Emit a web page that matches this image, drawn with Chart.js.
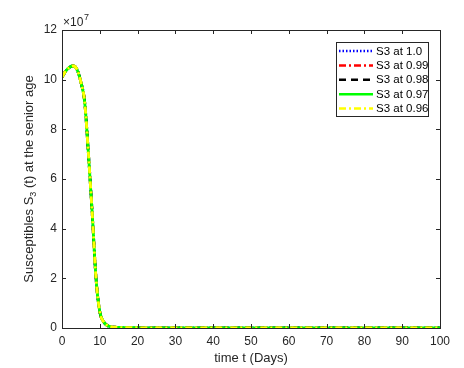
<!DOCTYPE html>
<html>
<head>
<meta charset="utf-8">
<script src="https://cdn.jsdelivr.net/npm/chart.js@4"></script>
<style>
  html, body { margin: 0; padding: 0; background: #fff; }
  #wrap { width: 464px; height: 368px; }
</style>
</head>
<body>
<div id="wrap"><canvas id="chart" width="464" height="368"></canvas></div>
<script>
// time in days
const days = [0, 1, 2, 3, 4, 5, 6, 7, 8, 9, 10, 11, 12, 13, 14, 15, 20, 30, 40, 50, 60, 70, 80, 90, 100];
// susceptibles, units of 1e7
const s3At100 = [10.1, 10.35, 10.5, 10.55, 10.4, 9.9, 9.1, 7.0, 4.6, 2.0, 0.65, 0.25, 0.1, 0.05, 0.03, 0.02, 0.01, 0, 0, 0, 0, 0, 0, 0, 0];
const s3At099 = [10.1, 10.35, 10.5, 10.55, 10.4, 9.9, 9.1, 7.0, 4.6, 2.0, 0.65, 0.25, 0.1, 0.05, 0.03, 0.02, 0.01, 0, 0, 0, 0, 0, 0, 0, 0];
const s3At098 = [10.1, 10.35, 10.5, 10.55, 10.4, 9.9, 9.1, 7.0, 4.6, 2.0, 0.65, 0.25, 0.1, 0.05, 0.03, 0.02, 0.01, 0, 0, 0, 0, 0, 0, 0, 0];
const s3At097 = [10.1, 10.35, 10.5, 10.55, 10.4, 9.9, 9.1, 7.0, 4.6, 2.0, 0.65, 0.25, 0.1, 0.05, 0.03, 0.02, 0.01, 0, 0, 0, 0, 0, 0, 0, 0];
const s3At096 = [10.1, 10.35, 10.5, 10.55, 10.4, 9.9, 9.1, 7.0, 4.6, 2.0, 0.65, 0.25, 0.1, 0.05, 0.03, 0.02, 0.01, 0, 0, 0, 0, 0, 0, 0, 0];
const seriesNames = ["S3 at 1.0", "S3 at 0.99", "S3 at 0.98", "S3 at 0.97", "S3 at 0.96"];
const xTicks = [0, 10, 20, 30, 40, 50, 60, 70, 80, 90, 100];
const yTicks = [0, 2, 4, 6, 8, 10, 12];

const FONT = "Liberation Sans, Arial, sans-serif";
const styles = [
  { color: "#0000ff", dash: [1.5, 2] },
  { color: "#ff0000", dash: [7, 3, 2, 3] },
  { color: "#000000", dash: [7, 5] },
  { color: "#00ff00", dash: [] },
  { color: "#ffff00", dash: [7, 3, 2, 3] },
];
const allValues = [s3At100, s3At099, s3At098, s3At097, s3At096];

const toPts = (vals) => days.map((d, i) => ({ x: d, y: vals[i] }));

// later series on top, like MATLAB
const datasets = allValues.map((vals, i) => ({
  label: seriesNames[i],
  data: toPts(vals),
  order: allValues.length - i,
  borderColor: styles[i].color,
  borderDash: styles[i].dash,
  borderWidth: 2.8,
  pointRadius: 0,
  fill: false,
  cubicInterpolationMode: "monotone",
}));

// box, inward ticks, labels, legend
const matlabAxes = {
  id: "matlabAxes",
  afterDraw(chart) {
    const ctx = chart.ctx;
    const a = chart.chartArea;
    const xs = chart.scales.x, ys = chart.scales.y;
    ctx.save();
    ctx.strokeStyle = "#262626";
    ctx.lineWidth = 1;
    ctx.strokeRect(a.left + 0.5, a.top + 0.5, a.right - a.left, a.bottom - a.top);
    ctx.beginPath();
    xTicks.forEach(v => {
      const px = Math.round(xs.getPixelForValue(v)) + 0.5;
      ctx.moveTo(px, a.bottom); ctx.lineTo(px, a.bottom - 4);
      ctx.moveTo(px, a.top); ctx.lineTo(px, a.top + 4);
    });
    yTicks.forEach(v => {
      const py = Math.round(ys.getPixelForValue(v)) + 0.5;
      ctx.moveTo(a.left, py); ctx.lineTo(a.left + 4, py);
      ctx.moveTo(a.right, py); ctx.lineTo(a.right - 4, py);
    });
    ctx.stroke();

    ctx.fillStyle = "#262626";
    ctx.font = "12px " + FONT;
    ctx.textAlign = "center";
    ctx.textBaseline = "middle";
    xTicks.forEach(v => ctx.fillText(String(v), xs.getPixelForValue(v), a.bottom + 14));
    ctx.textAlign = "right";
    yTicks.forEach(v => ctx.fillText(String(v), a.left - 5, ys.getPixelForValue(v)));

    // exponent
    ctx.textAlign = "left";
    ctx.font = "12px " + FONT;
    ctx.fillText("\u00d710", a.left + 1, a.top - 7);
    ctx.font = "9px " + FONT;
    ctx.fillText("7", a.left + 22, a.top - 12);

    // x title
    ctx.font = "13px " + FONT;
    ctx.textAlign = "center";
    ctx.fillText("time t (Days)", (a.left + a.right) / 2, a.bottom + 30);

    // y title with subscript
    ctx.save();
    ctx.translate(29, (a.top + a.bottom) / 2);
    ctx.rotate(-Math.PI / 2);
    const p1 = "Susceptibles S", p2 = "3", p3 = " (t) at the senior age";
    ctx.font = "13px " + FONT;
    const w1 = ctx.measureText(p1).width, w3 = ctx.measureText(p3).width;
    ctx.font = "9px " + FONT;
    const w2 = ctx.measureText(p2).width;
    let x0 = -(w1 + w2 + w3) / 2;
    ctx.textAlign = "left";
    ctx.font = "13px " + FONT;
    ctx.fillText(p1, x0, 0);
    ctx.font = "9px " + FONT;
    ctx.fillText(p2, x0 + w1, 5);
    ctx.font = "13px " + FONT;
    ctx.fillText(p3, x0 + w1 + w2, 0);
    ctx.restore();

    // legend
    const lx = 336, ly = 42, lw = 92, lh = 74;
    ctx.fillStyle = "#fff";
    ctx.fillRect(lx, ly, lw, lh);
    ctx.strokeStyle = "#262626";
    ctx.lineWidth = 1;
    ctx.strokeRect(lx + 0.5, ly + 0.5, lw, lh);
    ctx.font = "11.5px " + FONT;
    ctx.textAlign = "left";
    seriesNames.forEach((name, i) => {
      const y = ly + 9 + i * 14.4;
      ctx.beginPath();
      ctx.strokeStyle = styles[i].color;
      ctx.lineWidth = 2.5;
      ctx.setLineDash(styles[i].dash);
      ctx.moveTo(lx + 3, y); ctx.lineTo(lx + 37, y);
      ctx.stroke();
      ctx.setLineDash([]);
      ctx.fillStyle = "#000";
      ctx.fillText(name, lx + 40, y + 0.5);
    });
    ctx.restore();
  }
};

new Chart(document.getElementById("chart"), {
  type: "line",
  data: { datasets },
  options: {
    responsive: false,
    animation: false,
    layout: { padding: { left: 0, top: 30, right: 24, bottom: 0 } },
    plugins: { legend: { display: false }, tooltip: { enabled: false } },
    scales: {
      x: {
        type: "linear", min: 0, max: 100,
        grid: { display: false }, border: { display: false },
        ticks: { display: false, stepSize: 10 },
        afterFit: (s) => { s.height = 40; },
      },
      y: {
        min: 0, max: 12,
        grid: { display: false }, border: { display: false },
        ticks: { display: false, stepSize: 2 },
        afterFit: (s) => { s.width = 62; },
      },
    },
  },
  plugins: [matlabAxes],
});
</script>
</body>
</html>
